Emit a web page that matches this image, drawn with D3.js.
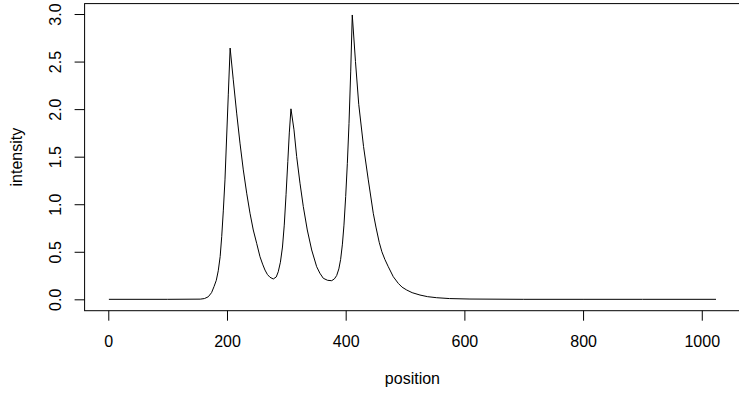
<!DOCTYPE html>
<html>
<head>
<meta charset="utf-8">
<script src="https://cdn.jsdelivr.net/npm/d3@7"></script>
<style>
  html, body { margin: 0; padding: 0; background: #fff; }
  text { font-family: "Liberation Sans", Arial, Helvetica, sans-serif; font-size: 16px; fill: #000; }
</style>
</head>
<body>
<svg id="chart" width="739" height="396"></svg>
<script>
// Data
const position = [1, 100, 155, 162, 168.5, 174, 178.1, 182, 185.3, 188.5, 191.1, 193.8, 196.6, 202.2, 205.3,
  210.6, 216.3, 221.9, 227.5, 233.2, 238.8, 244.3, 250.0, 255.6, 260.0, 264.0, 268.0, 272.4, 278.0,
  283.0, 286.4, 290.0, 293.5, 296.5, 299.5, 302.5, 305.0, 307.8,
  312.9, 317.4, 323.0, 328.6, 335.3, 342.7, 351.1, 356.5, 362.3, 369.5, 376.4, 381.0, 384.8,
  388.5, 391.5, 394.5, 397.1, 400.0, 402.8, 405.6, 408.5, 411.1,
  416.5, 422.0, 430.1, 438.1, 446.5, 451.0, 456.5, 461.0, 466.0, 471.8, 480.2, 488.6, 495.0,
  502.8, 512.0, 525.2, 538.0, 553.3, 575.0, 609.4, 700, 800, 900, 1024];
const intensity = [0, 0, 0.002, 0.008, 0.027, 0.07, 0.133, 0.2, 0.3, 0.45, 0.659, 0.93, 1.256, 2.15, 2.642,
  2.308, 1.958, 1.642, 1.361, 1.116, 0.905, 0.729, 0.589, 0.448, 0.37, 0.308, 0.262, 0.232, 0.214,
  0.235, 0.29, 0.39, 0.55, 0.78, 1.1, 1.45, 1.75, 2.003,
  1.782, 1.501, 1.221, 0.975, 0.729, 0.519, 0.343, 0.275, 0.221, 0.200, 0.196, 0.215, 0.25,
  0.32, 0.42, 0.58, 0.78, 1.08, 1.43, 1.85, 2.4, 2.99,
  2.5, 2.05, 1.606, 1.256, 0.905, 0.76, 0.60, 0.50, 0.42, 0.343, 0.238, 0.168, 0.128,
  0.098, 0.07, 0.045, 0.028, 0.017, 0.008, 0.003, 0, 0, 0, 0];
const xTicks = [0, 200, 400, 600, 800, 1000];
const yTicks = [0.0, 0.5, 1.0, 1.5, 2.0, 2.5, 3.0];
const xLabel = "position";
const yLabel = "intensity";

const svg = d3.select("#chart");

// Plot region (R-style, 4% expanded ranges)
const pLeft = 84.6, pRight = 740.3, pTop = 3.6, pBottom = 310.7;
const xExt = d3.extent(position), yMax = d3.max(intensity);
const xpad = (xExt[1] - xExt[0]) * 0.04;
const ypad = (yMax - 0) * 0.04;
const x = d3.scaleLinear().domain([xExt[0] - xpad, xExt[1] + xpad]).range([pLeft, pRight]);
const y = d3.scaleLinear().domain([0 - ypad, yMax + ypad]).range([pBottom, pTop]);

// box
svg.append("rect")
  .attr("x", pLeft).attr("y", pTop)
  .attr("width", pRight - pLeft).attr("height", pBottom - pTop)
  .attr("fill", "none").attr("stroke", "#000").attr("stroke-width", 1);

// x axis
const xAxis = d3.axisBottom(x).tickValues(xTicks).tickSize(10).tickPadding(8)
  .tickFormat(d3.format("d"));
const gx = svg.append("g").attr("transform", `translate(0,${pBottom})`).call(xAxis);
gx.select(".domain").remove();
gx.attr("font-size", null).attr("font-family", null);
gx.selectAll("line").attr("stroke", "#000");
gx.selectAll("text").attr("dy", null).attr("y", 36);

// y axis
const yAxis = d3.axisLeft(y).tickValues(yTicks).tickSize(10)
  .tickFormat(d3.format(".1f"));
const gy = svg.append("g").attr("transform", `translate(${pLeft},0)`).call(yAxis);
gy.select(".domain").remove();
gy.attr("font-size", null).attr("font-family", null);
gy.selectAll("line").attr("stroke", "#000");
gy.selectAll("text")
  .attr("x", null).attr("dy", null)
  .attr("text-anchor", "middle")
  .attr("transform", "translate(-23.3,0) rotate(-90)");

// labels
svg.append("text").attr("x", (pLeft + pRight) / 2).attr("y", 384)
  .attr("text-anchor", "middle").text(xLabel);
svg.append("text").attr("transform", `translate(21.5,${(pTop + pBottom) / 2}) rotate(-90)`)
  .attr("text-anchor", "middle").text(yLabel);

// line
const pts = position.map((p, i) => [p, intensity[i]]);
const line = d3.line().x(d => x(d[0])).y(d => y(d[1])).curve(d3.curveLinear);
svg.append("path").datum(pts)
  .attr("d", line)
  .attr("fill", "none").attr("stroke", "#000").attr("stroke-width", 1);
</script>
</body>
</html>
